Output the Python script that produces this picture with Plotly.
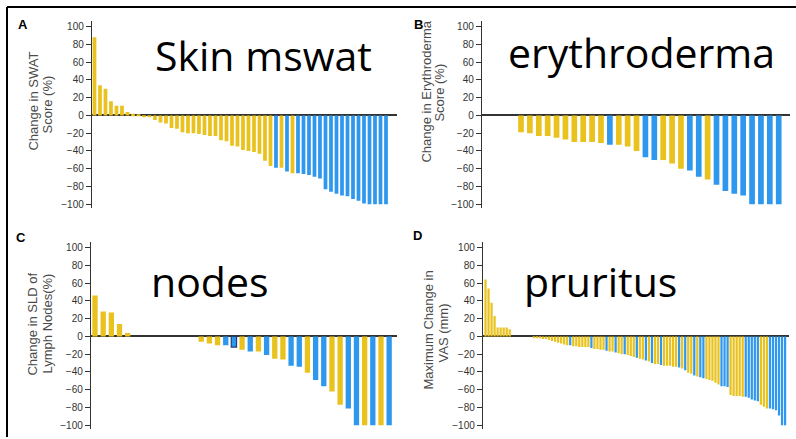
import plotly.graph_objects as go

W, H = 796, 439

# ---------------- data ----------------
# Panel A: Change in SWAT score (%)
skin_vals = [88, 34, 30, 16, 11, 11, 4, 2, 0.5,
             -1, -2, -5, -8, -9, -14, -15, -19, -20, -20,
             -21, -22, -23, -23, -28, -29, -34, -35, -39, -40,
             -41, -43, -51, -57,
             -59, -59, -63, -65,
             -65, -66, -67, -69, -71, -83, -86, -88, -90, -91,
             -94, -96, -99, -100, -100, -100, -100]
skin_grp = list("Y" * 33 + "BYBY" + "B" * 17)

# Panel B: Change in erythroderma score (%)
ery_vals = [-19, -20, -23, -23, -25, -27, -30, -30, -30, -31,
            -33, -33, -35, -40, -47, -50, -50, -54, -60, -62,
            -69, -72, -78, -85, -88, -90, -100, -100, -100, -100]
ery_grp = list("Y" * 10 + "B" + "Y" * 3 + "B" * 2 + "Y" * 3 + "B" * 2 + "Y" + "B" * 8)

# Panel C: Change in SLD of lymph nodes (%)
node_vals = [46, 28, 27, 14, 4,
             0, 0, 0, 0, 0, 0, 0, 0,
             -6, -8, -10, -10, -12, -15, -17, -17, -21, -25, -26, -33,
             -34, -41, -49, -56, -62, -77, -81, -100, -100, -100, -100, -100]
node_grp = list("Y" * 5 + "Y" * 8 + "YYYBBYBYBYYBBYBBYYBBYBYB")
node_outlined = [17]

# Panel D: Maximum change in pruritus VAS (mm)
vas_vals = [64, 54, 38, 23, 10, 10, 10, 10, 8,
            0, 0, 0, 0, 0, 0, 0,
            -1, -2, -2, -3, -3, -4, -5, -6, -7, -8, -9, -10,
            -10,
            -11, -11, -12, -12, -12, -12,
            -13,
            -14, -14, -15, -15,
            -16,
            -17, -17,
            -18,
            -19, -20,
            -20,
            -21, -22, -23,
            -24,
            -25, -26,
            -27,
            -28,
            -30,
            -31, -31,
            -32,
            -33, -33, -33, -34, -34,
            -35,
            -36,
            -38,
            -41, -42,
            -44,
            -45,
            -46, -47,
            -48, -49, -50, -52, -54,
            -56, -56, -57,
            -66, -67, -67, -67, -68,
            -68, -69, -71, -72, -73,
            -77, -79, -81,
            -81, -82, -83, -89, -100, -100]
vas_grp = list("Y" * 9 + "Y" * 7 + "Y" * 12 + "B" + "Y" * 6 + "B" + "Y" * 4 + "B"
               + "YY" + "B" + "YY" + "B" + "YYY" + "B" + "YY" + "B" + "Y" + "B"
               + "YY" + "B" + "YYYYY" + "B" + "Y" + "B" + "YY" + "B" + "Y" + "BB"
               + "YYYYY" + "BBB" + "YYYYY" + "BBBBB" + "YYY" + "BBBBBB")

y_ticks = [100, 80, 60, 40, 20, 0, -20, -40, -60, -80, -100]
titles = ["Skin mswat", "erythroderma", "nodes", "pruritus"]
letters = ["A", "B", "C", "D"]
ytitles = [("Change in SWAT", "Score (%)"),
           ("Change in Erythroderma", "Score (%)"),
           ("Change in SLD of", "Lymph Nodes(%)"),
           ("Maximum Change in", "VAS (mm)")]

# ---------------- style ----------------
YEL = "#E9C21D"
BLU = "#2E97EE"
cmap = {"Y": YEL, "B": BLU}

def px_x(p):
    return p / W

def px_y(p):
    return 1 - p / H

panels = [
    # vals, groups, x-domain px, y-domain px (top, bottom), x-range, bar width
    (skin_vals, skin_grp, (92, 397), (21.4, 208.8), (-0.45, 55.0), 0.68),
    (ery_vals, ery_grp, (482, 790), (21.4, 208.8), (-4.39, 30.27), 0.64),
    (node_vals, node_grp, (91, 397), (243.4, 430.8), (-0.49, 36.96), 0.65),
    (vas_vals, vas_grp, (483, 789), (243.4, 430.8), (-0.83, 100.3), 0.74),
]

fig = go.Figure()
layout = dict(width=W, height=H, margin=dict(l=0, r=0, t=0, b=0),
              paper_bgcolor="white", plot_bgcolor="white", showlegend=False,
              font=dict(family="Liberation Sans", color="#333"))

for i, (vals, grp, xd, yd, xr, bw) in enumerate(panels):
    n = i + 1
    xs = list(range(len(vals)))
    line_cols = [cmap[g] for g in grp]
    line_w = [0] * len(vals)
    if i == 2:
        for k in node_outlined:
            line_cols[k] = "#1d3f73"
            line_w[k] = 1.2
    fig.add_trace(go.Bar(
        x=xs, y=vals, width=bw,
        marker=dict(color=[cmap[g] for g in grp],
                    line=dict(color=line_cols, width=line_w)),
        xaxis=f"x{n}" if n > 1 else "x", yaxis=f"y{n}" if n > 1 else "y",
        hoverinfo="skip"))
    xa = "xaxis" if n == 1 else f"xaxis{n}"
    ya = "yaxis" if n == 1 else f"yaxis{n}"
    layout[xa] = dict(domain=[px_x(xd[0]), px_x(xd[1])], range=list(xr),
                      visible=False, anchor=f"y{n}" if n > 1 else "y")
    layout[ya] = dict(domain=[px_y(yd[1]), px_y(yd[0])], range=[-104, 106],
                      anchor=f"x{n}" if n > 1 else "x",
                      tickvals=y_ticks, ticks="outside", ticklen=5, tickwidth=1.3,
                      tickcolor="#333", showline=True, linecolor="#333", linewidth=1.4,
                      showgrid=False, zeroline=True, zerolinecolor="#333",
                      zerolinewidth=1.5, tickfont=dict(size=10, color="#333"))

fig.update_layout(**layout)

ann = []
# big titles
title_pos = [(263, 55), (641, 52), (210, 282), (600, 282)]
for t, (cx, cy) in zip(titles, title_pos):
    ann.append(dict(text=t, x=px_x(cx), y=px_y(cy), xref="paper", yref="paper",
                    showarrow=False, xanchor="center", yanchor="middle",
                    font=dict(family="Open Sans", size=41, color="black")))
# panel letters
letter_pos = [(23, 25), (418, 25), (21, 239), (417, 237)]
for t, (cx, cy) in zip(letters, letter_pos):
    ann.append(dict(text=f"<b>{t}</b>", x=px_x(cx), y=px_y(cy), xref="paper", yref="paper",
                    showarrow=False, xanchor="center", yanchor="middle",
                    font=dict(family="Liberation Sans", size=13, color="black")))
# y-axis titles (two lines each)
ytitle_pos = [((34, 102), (48, 105)), ((427, 92), (440, 93)),
              ((33, 326), (48, 325)), ((428, 332), (443, 335))]
for (l1, l2), ((x1, y1), (x2, y2)) in zip(ytitles, ytitle_pos):
    for t, cx, cy in ((l1, x1, y1), (l2, x2, y2)):
        ann.append(dict(text=t, x=px_x(cx), y=px_y(cy), xref="paper", yref="paper",
                        showarrow=False, xanchor="center", yanchor="middle", textangle=-90,
                        font=dict(family="Liberation Sans", size=13, color="#4a4a4a")))
fig.update_layout(annotations=ann)

# outer frame (top and left edges visible)
fig.add_shape(type="line", xref="paper", yref="paper", x0=px_x(7), x1=1.0,
              y0=px_y(7), y1=px_y(7), line=dict(color="black", width=2))
fig.add_shape(type="line", xref="paper", yref="paper", x0=px_x(7), x1=px_x(7),
              y0=0, y1=px_y(7), line=dict(color="black", width=2))

fig.write_html("out.html")
